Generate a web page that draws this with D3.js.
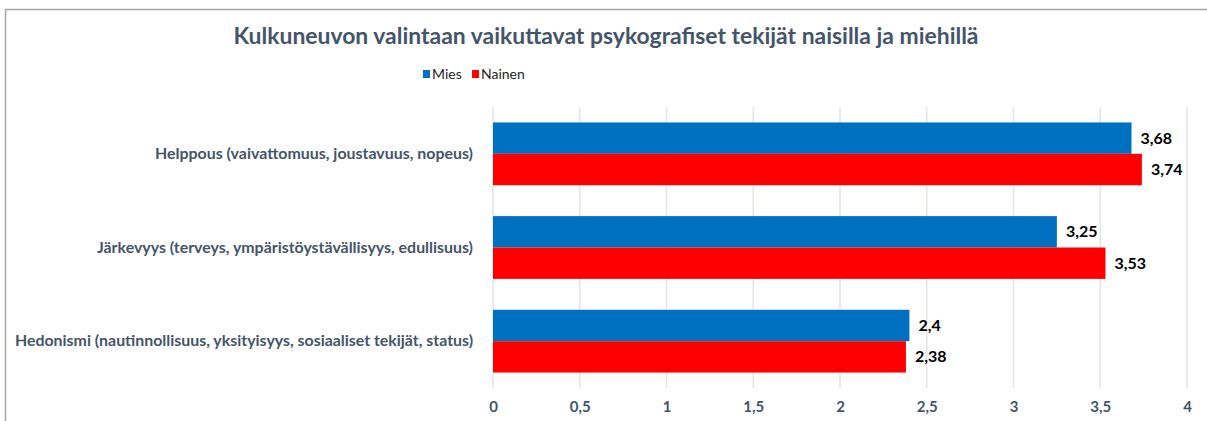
<!DOCTYPE html>
<html>
<head>
<meta charset="utf-8">
<script src="https://cdn.jsdelivr.net/npm/d3@7"></script>
<style>
  body { margin: 0; background: #fff; }
  svg text { font-family: Lato, "Open Sans", sans-serif; }
</style>
</head>
<body>
<div id="chart"></div>
<script>
// data
const categories = [
    "Helppous (vaivattomuus, joustavuus, nopeus)",
    "Järkevyys (terveys, ympäristöystävällisyys, edullisuus)",
    "Hedonismi (nautinnollisuus, yksityisyys, sosiaaliset tekijät, status)"
];
const seriesNames = ["Mies", "Nainen"];
const miesValues = [3.68, 3.25, 2.4];
const nainenValues = [3.74, 3.53, 2.38];
const xTicks = [0, 0.5, 1, 1.5, 2, 2.5, 3, 3.5, 4];

const colors = {Mies: '#0070C0', Nainen: '#FF0000'};
const textGrey = '#44546A';

// == SVG == //
let width = 1207, height = 421;
let margin = {top: 107, right: 20, bottom: 33, left: 493};

let svg = d3.select("#chart").append("svg")
    .attr("width", width)
    .attr("height", height);

// chart border (cropped at right/bottom)
svg.append("rect")
    .attr("x", 5.5).attr("y", 9.5)
    .attr("width", 1220).attr("height", 430)
    .attr("fill", "none")
    .attr("stroke", "#A6A6A6")
    .attr("stroke-width", 1.5);

// title
svg.append("text")
    .attr("x", 606).attr("y", 44)
    .attr("text-anchor", "middle")
    .attr("font-size", "22px")
    .attr("font-weight", "bold")
    .attr("fill", textGrey)
    .attr("textLength", 745)
    .attr("lengthAdjust", "spacingAndGlyphs")
    .text("Kulkuneuvon valintaan vaikuttavat psykografiset tekijät naisilla ja miehillä");

// legend
let legend = svg.append("g").attr("class", "legend");
let legendX = [423, 472];
seriesNames.forEach((name, i) => {
    let g = legend.append("g").attr("transform", `translate(${legendX[i]}, 70)`);
    g.append("rect")
        .attr("width", 7).attr("height", 8)
        .attr("fill", colors[name]);
    g.append("text")
        .attr("x", 9).attr("y", 9)
        .attr("font-size", "14px")
        .attr("fill", "#262626")
        .text(name);
});

// scales
let x = d3.scaleLinear()
    .domain([0, 4])
    .range([margin.left, 1187]);

let y = d3.scaleBand()
    .domain(categories)
    .range([margin.top, height - margin.bottom])
    .paddingInner(0.33)
    .paddingOuter(0.165);

let ySub = d3.scaleBand()
    .domain(seriesNames)
    .range([0, y.bandwidth()]);

// gridlines
svg.append("g")
    .attr("class", "grid")
    .selectAll("line")
    .data(xTicks)
    .enter()
    .append("line")
    .attr("x1", d => x(d)).attr("x2", d => x(d))
    .attr("y1", margin.top).attr("y2", height - margin.bottom)
    .attr("stroke", "#E1E5EB")
    .attr("stroke-width", 1.5);

// x axis labels
let xAxis = d3.axisBottom(x)
    .tickValues(xTicks)
    .tickSize(0)
    .tickPadding(0)
    .tickFormat(d => String(d).replace(".", ","));

let xAxisG = svg.append("g")
    .attr("transform", `translate(0, 401)`)
    .call(xAxis);
xAxisG.select(".domain").remove();
xAxisG.selectAll("text")
    .attr("font-size", "15px")
    .attr("font-weight", "bold")
    .attr("fill", textGrey)
    .attr("font-family", "Lato, sans-serif");

// category labels
let labelWidths = [318, 376, 458];
svg.append("g")
    .attr("class", "cat-labels")
    .selectAll("text")
    .data(categories)
    .enter()
    .append("text")
    .attr("x", 473)
    .attr("y", d => y(d) + y.bandwidth() / 2)
    .attr("dy", "0.35em")
    .attr("text-anchor", "end")
    .attr("font-size", "15px")
    .attr("font-weight", "bold")
    .attr("fill", textGrey)
    .attr("textLength", (d, i) => labelWidths[i])
    .attr("lengthAdjust", "spacingAndGlyphs")
    .text(d => d);

// bars
let rows = categories.map((c, i) => ({
    category: c,
    values: [{name: "Mies", value: miesValues[i]}, {name: "Nainen", value: nainenValues[i]}]
}));

let groups = svg.selectAll(".bar-group")
    .data(rows)
    .enter()
    .append("g")
    .attr("class", "bar-group")
    .attr("transform", d => `translate(0, ${y(d.category)})`);

groups.selectAll("rect")
    .data(d => d.values)
    .enter()
    .append("rect")
    .attr("x", x(0))
    .attr("y", d => ySub(d.name))
    .attr("width", d => x(d.value) - x(0))
    .attr("height", ySub.bandwidth())
    .attr("fill", d => colors[d.name]);

groups.selectAll(".value-label")
    .data(d => d.values)
    .enter()
    .append("text")
    .attr("class", "value-label")
    .attr("x", d => x(d.value) + 9)
    .attr("y", d => ySub(d.name) + ySub.bandwidth() / 2)
    .attr("dy", "0.35em")
    .attr("font-size", "16px")
    .attr("font-weight", "bold")
    .attr("fill", "#000")
    .text(d => String(d.value).replace(".", ","));
</script>
</body>
</html>
